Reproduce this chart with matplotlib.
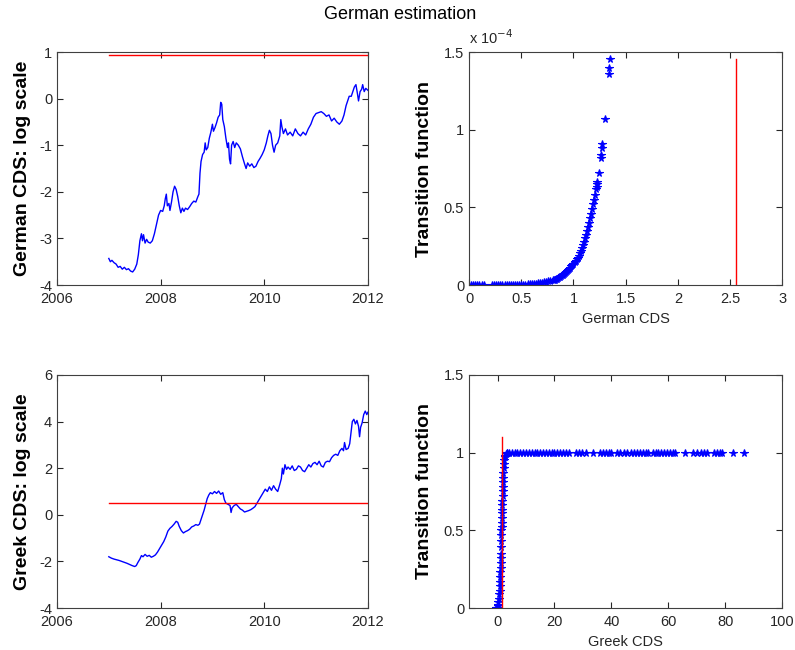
import matplotlib
matplotlib.use("Agg")
import matplotlib.pyplot as plt
import numpy as np
from matplotlib.ticker import FuncFormatter

plt.rcParams["font.family"] = ["Liberation Sans", "DejaVu Sans"]

# German CDS (log scale), decimal years
german_t = [
    2007.00, 2007.03, 2007.06, 2007.10, 2007.14, 2007.18, 2007.22, 2007.26, 2007.30, 2007.34,
    2007.38, 2007.42, 2007.46, 2007.50, 2007.54, 2007.57, 2007.60, 2007.63, 2007.65, 2007.67,
    2007.70, 2007.73, 2007.76, 2007.80, 2007.84, 2007.88, 2007.92, 2007.96, 2008.00, 2008.04,
    2008.07, 2008.09, 2008.11, 2008.13, 2008.16, 2008.18, 2008.21, 2008.24, 2008.27, 2008.30,
    2008.33, 2008.36, 2008.39, 2008.42, 2008.45, 2008.48, 2008.52, 2008.56, 2008.60, 2008.64,
    2008.68, 2008.72, 2008.74, 2008.76, 2008.78, 2008.81, 2008.84, 2008.86, 2008.88, 2008.91,
    2008.94, 2008.97, 2009.00, 2009.02, 2009.05, 2009.08, 2009.11, 2009.14, 2009.16, 2009.18,
    2009.20, 2009.23, 2009.26, 2009.29, 2009.31, 2009.33, 2009.35, 2009.37, 2009.40, 2009.43,
    2009.46, 2009.50, 2009.54, 2009.58, 2009.62, 2009.65, 2009.68, 2009.72, 2009.76, 2009.80,
    2009.84, 2009.88, 2009.92, 2009.96, 2010.00, 2010.04, 2010.07, 2010.10, 2010.13, 2010.16,
    2010.19, 2010.22, 2010.26, 2010.30, 2010.32, 2010.34, 2010.37, 2010.41, 2010.45, 2010.50,
    2010.55, 2010.60, 2010.65, 2010.70, 2010.75, 2010.80, 2010.85, 2010.90, 2010.95, 2011.00,
    2011.05, 2011.10, 2011.15, 2011.20, 2011.25, 2011.30, 2011.35, 2011.40, 2011.45, 2011.50,
    2011.54, 2011.58, 2011.61, 2011.64, 2011.68, 2011.71, 2011.74, 2011.77, 2011.80, 2011.82,
    2011.85, 2011.88, 2011.90, 2011.93, 2011.96, 2012.00,
]
german_log = [
    -3.43, -3.50, -3.47, -3.52, -3.55, -3.62, -3.60, -3.66, -3.62, -3.67,
    -3.65, -3.70, -3.72, -3.66, -3.55, -3.35, -3.05, -2.90, -3.05, -2.92,
    -3.10, -3.02, -3.08, -3.10, -3.05, -2.90, -2.70, -2.50, -2.40, -2.42,
    -2.30, -2.15, -2.05, -2.30, -2.25, -2.40, -2.22, -2.00, -1.88, -1.95,
    -2.10, -2.30, -2.45, -2.35, -2.42, -2.35, -2.38, -2.32, -2.25, -2.20,
    -2.22, -2.10, -2.05, -1.60, -1.35, -1.20, -1.15, -0.95, -1.10, -1.05,
    -0.85, -0.72, -0.55, -0.70, -0.62, -0.52, -0.40, -0.35, -0.08, -0.12,
    -0.45, -0.60, -0.85, -1.05, -0.95, -1.30, -1.40, -1.00, -0.92, -1.05,
    -0.95, -1.00, -1.08, -1.25, -1.40, -1.50, -1.38, -1.45, -1.40, -1.48,
    -1.45, -1.35, -1.28, -1.20, -1.10, -0.95, -0.80, -0.68, -0.75, -1.00,
    -1.15, -1.00, -0.95, -0.80, -0.45, -0.60, -0.75, -0.65, -0.78, -0.72,
    -0.80, -0.65, -0.75, -0.80, -0.72, -0.78, -0.65, -0.55, -0.40, -0.32,
    -0.30, -0.28, -0.32, -0.38, -0.35, -0.48, -0.42, -0.50, -0.55, -0.48,
    -0.35, -0.15, -0.05, 0.05, 0.05, 0.15, 0.25, 0.30, 0.10, -0.05,
    0.15, 0.20, 0.30, 0.15, 0.22, 0.18,
]

# Greek CDS (log scale), decimal years
greek_t = [
    2007.00, 2007.05, 2007.10, 2007.15, 2007.20, 2007.25, 2007.30, 2007.35, 2007.40, 2007.45,
    2007.50, 2007.53, 2007.56, 2007.60, 2007.63, 2007.66, 2007.70, 2007.74, 2007.78, 2007.82,
    2007.86, 2007.90, 2007.94, 2007.98, 2008.02, 2008.06, 2008.10, 2008.14, 2008.18, 2008.22,
    2008.26, 2008.30, 2008.33, 2008.36, 2008.40, 2008.44, 2008.48, 2008.52, 2008.56, 2008.60,
    2008.64, 2008.68, 2008.72, 2008.75, 2008.78, 2008.81, 2008.84, 2008.87, 2008.90, 2008.93,
    2008.96, 2009.00, 2009.04, 2009.08, 2009.12, 2009.16, 2009.20, 2009.23, 2009.26, 2009.30,
    2009.34, 2009.36, 2009.38, 2009.42, 2009.46, 2009.50, 2009.54, 2009.58, 2009.62, 2009.66,
    2009.70, 2009.74, 2009.78, 2009.82, 2009.86, 2009.90, 2009.94, 2009.98, 2010.02, 2010.06,
    2010.10, 2010.14, 2010.18, 2010.22, 2010.26, 2010.30, 2010.33, 2010.35, 2010.37, 2010.40,
    2010.43, 2010.46, 2010.50, 2010.54, 2010.58, 2010.62, 2010.66, 2010.70, 2010.74, 2010.78,
    2010.82, 2010.86, 2010.90, 2010.94, 2010.98, 2011.02, 2011.06, 2011.10, 2011.14, 2011.18,
    2011.22, 2011.26, 2011.30, 2011.34, 2011.38, 2011.42, 2011.46, 2011.50, 2011.53, 2011.55,
    2011.58, 2011.62, 2011.65, 2011.68, 2011.70, 2011.73, 2011.76, 2011.79, 2011.82, 2011.84,
    2011.86, 2011.89, 2011.92, 2011.95, 2011.98, 2012.00,
]
greek_log = [
    -1.80, -1.86, -1.90, -1.93, -1.96, -2.00, -2.04, -2.08, -2.13, -2.18,
    -2.22, -2.18, -2.05, -1.90, -1.75, -1.80, -1.70, -1.78, -1.74, -1.82,
    -1.78, -1.72, -1.60, -1.45, -1.30, -1.15, -0.95, -0.70, -0.58, -0.50,
    -0.40, -0.28, -0.32, -0.50, -0.68, -0.78, -0.72, -0.68, -0.62, -0.52,
    -0.48, -0.42, -0.45, -0.40, -0.20, 0.00, 0.20, 0.45, 0.70, 0.85,
    0.95, 0.90, 1.00, 0.92, 1.02, 0.88, 0.95, 0.65, 0.50, 0.45,
    0.40, 0.10, 0.30, 0.40, 0.45, 0.35, 0.25, 0.20, 0.12, 0.15,
    0.18, 0.22, 0.28, 0.35, 0.50, 0.65, 0.80, 0.95, 1.10, 1.00,
    1.20, 1.05, 1.25, 1.10, 1.00, 1.30, 1.55, 2.00, 1.75, 2.15,
    1.95, 2.05, 1.95, 2.10, 1.90, 1.95, 2.10, 2.05, 1.90, 1.85,
    2.00, 2.15, 2.05, 2.20, 2.25, 2.15, 2.30, 2.10, 2.05, 2.25,
    2.30, 2.28, 2.45, 2.55, 2.60, 2.55, 2.75, 2.85, 2.75, 3.10,
    2.80, 2.85, 3.05, 3.60, 4.00, 4.10, 3.90, 4.05, 3.80, 3.35,
    3.75, 3.95, 4.30, 4.45, 4.30, 4.40,
]

# estimated thresholds (CDS level)
german_threshold = 2.56
greek_threshold = 1.65

# German transition function vs CDS (values in units of 1e-4)
german_cds = [
    0.02, 0.04, 0.06, 0.08, 0.10, 0.12, 0.14, 0.22, 0.24, 0.26, 0.28, 0.30,
    0.32, 0.34, 0.36, 0.38, 0.40, 0.42, 0.44, 0.46, 0.48, 0.50, 0.52, 0.54,
    0.56, 0.58, 0.60, 0.62, 0.64, 0.66, 0.68, 0.70, 0.72, 0.74, 0.76, 0.78,
    0.80, 0.81, 0.82, 0.83, 0.84, 0.85, 0.86, 0.87, 0.88, 0.89, 0.90, 0.91,
    0.92, 0.93, 0.94, 0.95, 0.96, 0.97, 0.98, 0.99, 1.00, 1.01, 1.02, 1.03,
    1.04, 1.05, 1.06, 1.07, 1.08, 1.09, 1.10, 1.11, 1.12, 1.13, 1.14, 1.15,
    1.16, 1.17, 1.18, 1.19, 1.20, 1.21, 1.22, 1.23, 1.23, 1.23, 1.24, 1.26,
    1.26, 1.27, 1.27, 1.30, 1.34, 1.34, 1.35,
]
german_trans = [
    0.0, 0.0, 0.0, 0.0, 0.0, 0.0, 0.0, 0.0, 0.0, 0.0, 0.0, 0.0,
    0.0, 0.0, 0.0, 0.0, 0.0, 0.0, 0.001, 0.001, 0.002, 0.002, 0.003, 0.003,
    0.004, 0.005, 0.006, 0.007, 0.008, 0.010, 0.012, 0.014, 0.017, 0.020, 0.024, 0.027,
    0.030, 0.032, 0.035, 0.038, 0.041, 0.045, 0.049, 0.053, 0.057, 0.062, 0.067, 0.072,
    0.078, 0.084, 0.090, 0.097, 0.104, 0.112, 0.120, 0.128, 0.136, 0.145, 0.155, 0.165,
    0.176, 0.190, 0.205, 0.222, 0.240, 0.260, 0.280, 0.302, 0.325, 0.350, 0.375, 0.402,
    0.430, 0.460, 0.490, 0.520, 0.550, 0.580, 0.620, 0.630, 0.650, 0.665, 0.720, 0.820,
    0.840, 0.880, 0.910, 1.070, 1.360, 1.400, 1.455,
]

# Greek transition function vs CDS
greek_cds = [
    -0.4, -0.2, 0.0, 0.15, 0.3, 0.45, 0.6, 0.7, 0.8, 0.9, 0.95, 1.0, 1.05,
    1.1, 1.15, 1.2, 1.25, 1.3, 1.3, 1.35, 1.4, 1.45, 1.5, 1.55, 1.6, 1.65,
    1.7, 1.75, 1.8, 1.85, 1.9, 1.95, 2.0, 2.1, 2.2, 2.4, 2.6, 2.8, 3.0, 3.2,
]
greek_trans = [
    0.0, 0.0, 0.01, 0.02, 0.04, 0.06, 0.09, 0.11, 0.14, 0.17, 0.20, 0.23, 0.26,
    0.29, 0.32, 0.35, 0.39, 0.43, 0.47, 0.50, 0.52, 0.55, 0.58, 0.61, 0.63, 0.66,
    0.69, 0.72, 0.75, 0.78, 0.81, 0.84, 0.87, 0.90, 0.93, 0.955, 0.97, 0.98, 0.99, 0.995,
]
greek_cds_flat = [
    3.5, 4, 5, 6, 7, 8, 9, 10, 11, 12, 13, 14, 15, 16, 17, 18, 19, 20, 21, 22,
    23, 24, 25, 27.5, 28.5, 29.5, 31, 33.7, 36, 37, 38, 39, 40, 42, 43, 44.5,
    45.5, 47, 48, 49, 50, 51, 52, 53, 54.5, 55.5, 56.5, 57.5, 58.5, 59.5, 60.5,
    61.5, 62.5, 65.8, 68.5, 70, 71.5, 72.5, 73.5, 76, 77, 78, 79, 82.8, 86.6,
]
greek_trans_flat = [1.0] * len(greek_cds_flat)

fmt = FuncFormatter(lambda v, p: "%g" % v)
mark = dict(ls="none", marker="*", color="blue", mec="blue", ms=5.5, mew=0.8)


def style(ax):
    ax.tick_params(direction="in", top=True, right=True, length=4, width=0.8,
                   labelsize=10.5, colors="#262626")
    ax.tick_params(axis="x", pad=5)
    for s in ax.spines.values():
        s.set_color("#404040")
        s.set_linewidth(0.8)
    ax.xaxis.set_major_formatter(fmt)
    ax.yaxis.set_major_formatter(fmt)


fig = plt.figure(figsize=(7.95, 6.5), dpi=100)
fig.text(0.503, 0.977, "German estimation", ha="center", va="center", fontsize=13)

ylab = dict(fontsize=14, fontweight="bold")
xlab = dict(fontsize=10.5, color="#262626")

# top-left: German CDS time series
ax1 = fig.add_axes([0.0717, 0.5615, 0.391, 0.3585])
ax1.plot(german_t, german_log, color="blue", lw=1)
ax1.plot([german_t[0], german_t[-1]], [np.log(german_threshold)] * 2, color="red", lw=1)
ax1.set_xlim(2006, 2012)
ax1.set_ylim(-4, 1)
ax1.set_xticks([2006, 2008, 2010, 2012])
ax1.set_yticks([-4, -3, -2, -1, 0, 1])
ax1.set_ylabel("German CDS: log scale", labelpad=6, **ylab)
style(ax1)

# top-right: German transition function
ax2 = fig.add_axes([0.590, 0.5615, 0.394, 0.3585])
ax2.plot(german_cds, german_trans, **mark)
ax2.plot([german_threshold, german_threshold], [0, max(german_trans)], color="red", lw=1)
ax2.set_xlim(0, 3)
ax2.set_ylim(0, 1.5)
ax2.set_xticks([0, 0.5, 1, 1.5, 2, 2.5, 3])
ax2.set_yticks([0, 0.5, 1, 1.5])
ax2.set_xlabel("German CDS", labelpad=4, **xlab)
ax2.set_ylabel("Transition function", labelpad=8, **ylab)
ax2.text(0.0, 1.02, r"x 10$^{-4}$", transform=ax2.transAxes, fontsize=10.5,
         color="#262626", ha="left", va="bottom")
style(ax2)

# bottom-left: Greek CDS time series
ax3 = fig.add_axes([0.0717, 0.0646, 0.391, 0.3585])
ax3.plot(greek_t, greek_log, color="blue", lw=1)
ax3.plot([greek_t[0], greek_t[-1]], [np.log(greek_threshold)] * 2, color="red", lw=1)
ax3.set_xlim(2006, 2012)
ax3.set_ylim(-4, 6)
ax3.set_xticks([2006, 2008, 2010, 2012])
ax3.set_yticks([-4, -2, 0, 2, 4, 6])
ax3.set_ylabel("Greek CDS: log scale", labelpad=6, **ylab)
style(ax3)

# bottom-right: Greek transition function
ax4 = fig.add_axes([0.590, 0.0646, 0.394, 0.3585])
ax4.plot(greek_cds, greek_trans, **mark)
ax4.plot(greek_cds_flat, greek_trans_flat, **mark)
ax4.plot([greek_threshold, greek_threshold], [0, 1.1], color="red", lw=1)
ax4.set_xlim(-10, 100)
ax4.set_ylim(0, 1.5)
ax4.set_xticks([0, 20, 40, 60, 80, 100])
ax4.set_yticks([0, 0.5, 1, 1.5])
ax4.set_xlabel("Greek CDS", labelpad=4, **xlab)
ax4.set_ylabel("Transition function", labelpad=8, **ylab)
style(ax4)

fig.savefig("out.png", dpi=100, facecolor="white")
